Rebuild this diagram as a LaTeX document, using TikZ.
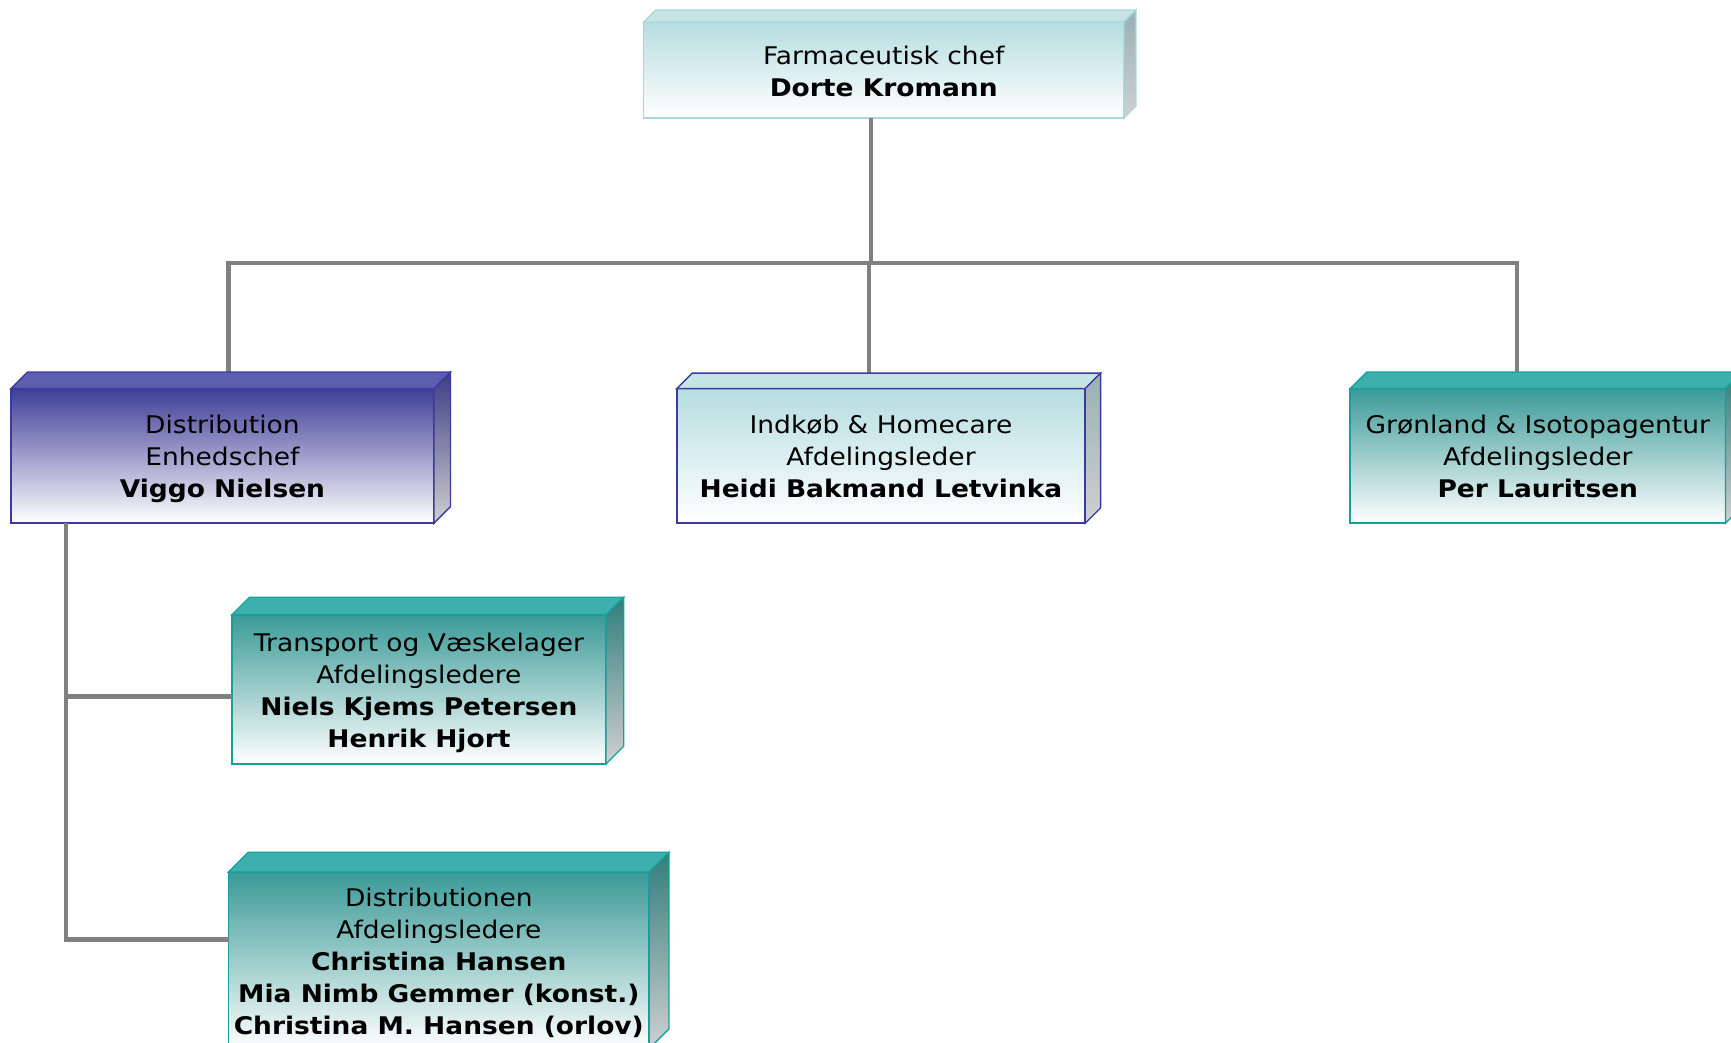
\documentclass[tikz,border=0pt]{standalone}
\usepackage{fontspec}
\setmainfont{DejaVu Sans}[FakeStretch=1.09]
\definecolor{lcTop}{HTML}{B6DDE0}
\definecolor{lcBorder}{HTML}{A9D8DB}
\definecolor{lcRoof}{HTML}{C6E4E6}
\definecolor{lcSide}{HTML}{98B0B4}
\definecolor{blTop}{HTML}{3E3E98}
\definecolor{blBorder}{HTML}{3A3AA0}
\definecolor{blRoof}{HTML}{5E5EB0}
\definecolor{blSide}{HTML}{3C3C85}
\definecolor{tlTop}{HTML}{3A9A97}
\definecolor{tlBorder}{HTML}{17A09B}
\definecolor{tlRoof}{HTML}{3DB0AE}
\definecolor{tlSide}{HTML}{2F7E7B}
\definecolor{sideBot}{HTML}{D0D0D0}
\definecolor{connGray}{HTML}{808080}
\newcommand\mystrutA{\rule{0pt}{26pt}}
\newcommand\mystrutB{\rule[-8pt]{0pt}{8pt}}
\newcommand\boxfaces[5]{%
  \draw[line width=1.2pt, draw=#3, fill=#4, line join=miter]
    (#1.north west) -- ++(#2,-#2) -- ([shift={(#2,-#2)}]#1.north east) -- (#1.north east) -- cycle;
  \draw[line width=1.2pt, draw=#3, top color=#5, bottom color=sideBot, line join=miter]
    (#1.north east) -- ([shift={(#2,-#2)}]#1.north east) -- ([shift={(#2,-#2)}]#1.south east) -- (#1.south east) -- cycle;
}
\begin{document}
\begin{tikzpicture}[x=1pt,y=-1pt,
  front/.style={draw, line width=1.5pt, inner sep=0pt, outer sep=0pt, align=center,
    font=\fontsize{22}{29}\selectfont},
  lightbox/.style={front, top color=lcTop, bottom color=white},
  bluebox/.style={front, draw=blBorder, top color=blTop, bottom color=white},
  tealbox/.style={front, draw=tlBorder, top color=tlTop, bottom color=white},
  conn/.style={draw=connGray, line width=4pt, line join=miter}]
\useasboundingbox (0,0) rectangle (1568,944);
\clip (0,0) rectangle (1568,944);

\node[lightbox, draw=lcBorder, minimum width=435pt, minimum height=87pt] (top) at (800.5,63.5)
  {\mystrutA Farmaceutisk chef\\\textbf{Dorte Kromann}\mystrutB};
\node[bluebox, minimum width=383pt, minimum height=122pt] (dist) at (201.5,413)
  {\mystrutA Distribution\\Enhedschef\\\textbf{Viggo Nielsen}\mystrutB};
\node[lightbox, draw=blBorder, minimum width=370pt, minimum height=122pt] (ind) at (798,413)
  {\mystrutA Indkøb \& Homecare\\Afdelingsleder\\\textbf{Heidi Bakmand Letvinka}\mystrutB};
\node[tealbox, minimum width=340pt, minimum height=122pt] (gr) at (1393,413)
  {\mystrutA Grønland \& Isotopagentur\\Afdelingsleder\\\textbf{Per Lauritsen}\mystrutB};
\node[tealbox, minimum width=339pt, minimum height=135pt] (tr) at (379.5,624.5)
  {\mystrutA Transport og Væskelager\\Afdelingsledere\\\textbf{Niels Kjems Petersen}\\\textbf{Henrik Hjort}\mystrutB};
\node[tealbox, minimum width=381pt, minimum height=160pt] (dn) at (397.5,870)
  {\mystrutA Distributionen\\Afdelingsledere\\\textbf{Christina Hansen}\\\textbf{Mia Nimb Gemmer (konst.)}\\\textbf{Christina M. Hansen (orlov)}\mystrutB};

\coordinate (bus) at (789,238);
\coordinate (busL) at (207,238);
\coordinate (busM) at (787,238);
\coordinate (busR) at (1374,238);
\coordinate (j1) at (60,631);
\coordinate (j2) at (60,851);

\draw[conn] (top.south -| bus) -- (bus);
\draw[conn] (busL |- dist.north) -- (busL) -- (busR) -- (busR |- gr.north);
\draw[conn] (busM) -- (busM |- ind.north);
\draw[conn] (dist.south -| j2) -- (j2) -- (j2 -| dn.west);
\draw[conn] (j1) -- (j1 -| tr.west);

\boxfaces{top}{11}{lcBorder}{lcRoof}{lcSide}
\boxfaces{dist}{15}{blBorder}{blRoof}{blSide}
\boxfaces{ind}{14}{blBorder}{lcRoof}{lcSide}
\boxfaces{gr}{15}{tlBorder}{tlRoof}{tlSide}
\boxfaces{tr}{16}{tlBorder}{tlRoof}{tlSide}
\boxfaces{dn}{18}{tlBorder}{tlRoof}{tlSide}
\end{tikzpicture}
\end{document}
